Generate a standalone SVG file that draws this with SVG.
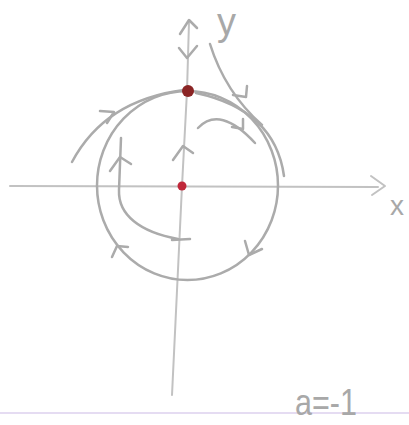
<svg xmlns="http://www.w3.org/2000/svg" width="409" height="425" viewBox="0 0 409 425">
<style>
.ax{fill:none;stroke:#c2c2c2;stroke-width:2;stroke-linecap:round;stroke-linejoin:round}
.tr{fill:none;stroke:#ababab;stroke-width:2.5;stroke-linecap:round;stroke-linejoin:round}
.lb{font-family:"Liberation Sans",Arial,sans-serif;fill:#a8a8a8}
</style>
<rect width="409" height="425" fill="#ffffff"/>
<line x1="0" y1="413" x2="409" y2="413" stroke="#dcd0ee" stroke-width="1.5"/>
<g id="axes">
<path class="ax" d="M10,186 L378,187"/>
<path class="ax" d="M371,176 L385,186 L372,195"/>
<path class="ax" d="M189,22 L187,91 L182,186 L172,395"/>
</g>
<g id="connectors">
<ellipse class="tr" cx="187.5" cy="185.5" rx="90.5" ry="94.5"/>
<path class="tr" d="M180,34 L189,20 L197,28"/>
<path class="tr" d="M179,48 L187,58 L197,46"/>
<path class="tr" d="M173,160 L183,146 L193,153"/>
<path class="tr" d="M72,162 Q105,100 184,90"/>
<path class="tr" d="M100,111 L114,112 L107,123"/>
<path class="tr" d="M196,93 Q275,110 284,176"/>
<path class="tr" d="M210,44 Q225,92 262,125"/>
<path class="tr" d="M233,95 L246,97 L247,86"/>
<path class="tr" d="M198,128 Q220,105 255,143"/>
<path class="tr" d="M232,127 L243,129 L243,119"/>
<path class="tr" d="M178,239 C140,232 118,215 119,190 L121,138"/>
<path class="tr" d="M172,240 L190,239"/>
<path class="tr" d="M110,171 L120,157 L131,164"/>
<path class="tr" d="M112,257 L117,246 L128,247"/>
<path class="tr" d="M245,241 L249,255 L262,249"/>
</g>
<g id="node-top"><circle cx="188" cy="91" r="6" fill="#8a2424"/></g>
<g id="node-origin"><circle cx="182" cy="186" r="4.5" fill="#c0283a"/></g>
<g id="labels">
<text class="lb" x="217" y="35" font-size="38">y</text>
<text class="lb" x="390" y="215" font-size="28">x</text>
<text class="lb" x="295" y="415" font-size="36" textLength="62" lengthAdjust="spacingAndGlyphs">a=-1</text>
</g>
</svg>
